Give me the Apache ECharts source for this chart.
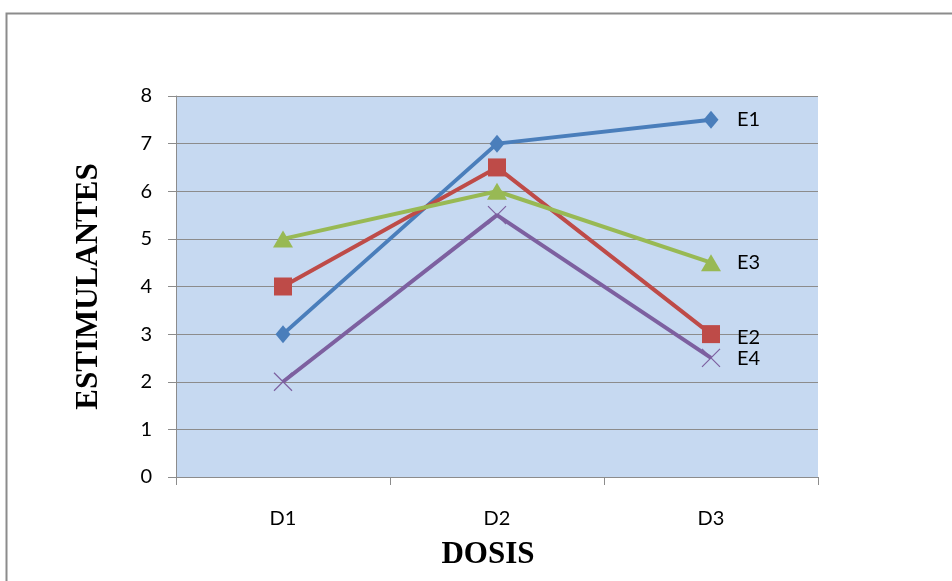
<!DOCTYPE html>
<html>
<head>
<meta charset="utf-8">
<script src="https://cdn.jsdelivr.net/npm/echarts@6/dist/echarts.min.js"></script>
<style>
html,body{margin:0;padding:0;background:#fff;}
#chart{width:952px;height:581px;}
</style>
</head>
<body>
<div id="chart"></div>
<script>
const categories = ['D1', 'D2', 'D3'];
const seriesNames = ['E1', 'E2', 'E3', 'E4'];
const e1 = [3, 7, 7.5];
const e2 = [4, 6.5, 3];
const e3 = [5, 6, 4.5];
const e4 = [2, 5.5, 2.5];
const yTicks = [0, 1, 2, 3, 4, 5, 6, 7, 8];

const values = [e1, e2, e3, e4];
const colors = ['#4a7ebb', '#be4b48', '#98b954', '#7d60a0'];
const symbols = ['diamond', 'rect', 'triangle', 'path://M0,0L1,1M1,0L0,1'];
const symbolSizes = [[15, 18], [18, 18], [20, 17], [18, 18]];
const labelOffsets = [[0, 0], [0, 3], [0, 0], [0, 1]];

const chart = echarts.init(document.getElementById('chart'), null, {renderer: 'canvas'});

const series = seriesNames.map((name, i) => ({
  name: name,
  type: 'line',
  data: values[i],
  symbol: symbols[i],
  symbolSize: symbolSizes[i],
  showAllSymbol: true,
  lineStyle: {color: colors[i], width: 4},
  itemStyle: i === 3
    ? {color: 'rgba(0,0,0,0)', borderColor: colors[i], borderWidth: 1.2}
    : {color: colors[i], borderWidth: 0},
  endLabel: {
    show: true,
    formatter: name,
    distance: 26,
    offset: labelOffsets[i],
    color: '#000',
    fontFamily: 'Lato',
    fontSize: 20
  },
  emphasis: {disabled: true},
  animation: false,
  z: 3 + i
}));

chart.setOption({
  animation: false,
  graphic: [{
    type: 'rect',
    shape: {x: 6.5, y: 13.5, width: 1000, height: 700},
    style: {fill: 'none', stroke: '#8c8c8c', lineWidth: 2},
    silent: true,
    z: -10
  }],
  grid: {
    left: 176, top: 96, width: 642, height: 381,
    show: true,
    backgroundColor: '#c6d9f1',
    borderWidth: 0
  },
  xAxis: {
    type: 'category',
    data: categories,
    boundaryGap: true,
    name: 'DOSIS',
    nameLocation: 'middle',
    nameGap: 62,
    nameTextStyle: {fontFamily: 'Liberation Serif', fontWeight: 'bold', fontSize: 31, color: '#000', padding: [0, 18, 0, 0]},
    axisLine: {show: true, lineStyle: {color: '#8c8c8c', width: 1}},
    axisTick: {show: true, length: 8, lineStyle: {color: '#8c8c8c'}},
    axisLabel: {margin: 32, fontFamily: 'Lato', fontSize: 20, color: '#000'},
    splitLine: {show: false}
  },
  yAxis: {
    type: 'value',
    min: yTicks[0],
    max: yTicks[yTicks.length - 1],
    interval: 1,
    name: 'ESTIMULANTES',
    nameLocation: 'middle',
    nameGap: 72,
    nameTextStyle: {fontFamily: 'Liberation Serif', fontWeight: 'bold', fontSize: 31, color: '#000'},
    axisLine: {show: true, lineStyle: {color: '#8c8c8c', width: 1}},
    axisTick: {show: true, length: 8, lineStyle: {color: '#8c8c8c'}},
    axisLabel: {margin: 24, fontFamily: 'Lato', fontSize: 20, color: '#000'},
    splitLine: {show: true, lineStyle: {color: '#8c8c8c', width: 1}}
  },
  series: series
});
</script>
</body>
</html>
